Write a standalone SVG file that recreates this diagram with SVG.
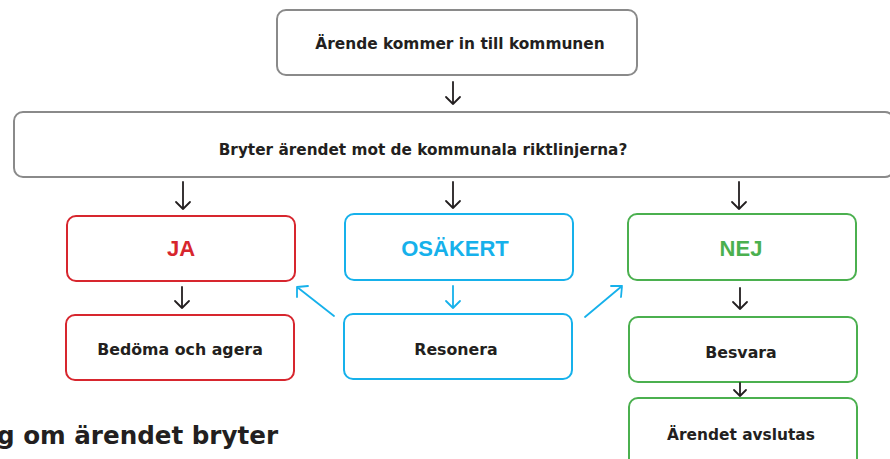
<svg xmlns="http://www.w3.org/2000/svg" width="890" height="459" viewBox="0 0 890 459">
<style>
.box{fill:#fff;stroke-width:2}
.g{stroke:#8a8a8a}.r{stroke:#d7262e}.b{stroke:#16b1eb}.n{stroke:#4bb04f}
.t{font-family:"DejaVu Sans","Liberation Sans",sans-serif;font-weight:bold;fill:#231f20;text-anchor:middle}
.h{font-family:"Liberation Sans",Arial,sans-serif;font-weight:bold;text-anchor:middle;font-size:22px}
.c{fill:none;stroke-width:1.8;stroke-linecap:round;stroke-linejoin:round}
.k{stroke:#231f20}
</style>
<rect width="890" height="459" fill="#fff"/>
<g id="n_start"><rect class="box g" x="277" y="10" width="360" height="65" rx="9"/><text class="t" x="460" y="49" font-size="15.4">Ärende kommer in till kommunen</text></g>
<g id="n_question"><rect class="box g" x="14" y="112" width="880" height="65" rx="9"/><text class="t" x="423" y="155" font-size="15.3">Bryter ärendet mot de kommunala riktlinjerna?</text></g>
<g id="n_ja"><rect class="box r" x="67" y="216" width="228" height="65" rx="9"/><text class="h" x="181" y="256" style="fill:#d7262e">JA</text></g>
<g id="n_osakert"><rect class="box b" x="345" y="214" width="228" height="66" rx="9"/><text class="h" x="455" y="256" style="fill:#16b1eb">OSÄKERT</text></g>
<g id="n_nej"><rect class="box n" x="628" y="214" width="228" height="66" rx="9"/><text class="h" x="741" y="256" style="fill:#4bb04f">NEJ</text></g>
<g id="n_bedoma"><rect class="box r" x="66" y="315" width="228" height="65" rx="9"/><text class="t" x="180" y="355" font-size="15.8">Bedöma och agera</text></g>
<g id="n_resonera"><rect class="box b" x="344" y="314" width="228" height="65" rx="9"/><text class="t" x="456" y="355" font-size="15.8">Resonera</text></g>
<g id="n_besvara"><rect class="box n" x="629" y="317" width="228" height="65" rx="9"/><text class="t" x="741" y="358" font-size="15.8">Besvara</text></g>
<g id="n_avslutas"><rect class="box n" x="629" y="398" width="228" height="75" rx="9"/><text class="t" x="741" y="440" font-size="15.4">Ärendet avslutas</text></g>
<text class="t" x="-3" y="444" font-size="24.6" style="text-anchor:start">g om ärendet bryter</text>
<g id="connectors">
<path class="c k" d="M453 82V104M446 97L453 104L460 97"/>
<path class="c k" d="M183 182V209M176 202L183 209L190 202"/>
<path class="c k" d="M453 182V208M446 201L453 208L460 201"/>
<path class="c k" d="M739 182V209M732 202L739 209L746 202"/>
<path class="c k" d="M182 287V308M175 301L182 308L189 301"/>
<path class="c b" d="M453 286V308M446 301L453 308L460 301"/>
<path class="c k" d="M740 288V309M733 302L740 309L747 302"/>
<path class="c k" d="M740 383V396M734 390L740 396L746 390"/>
<path class="c b" d="M334 316L297 287M297 297L297 287L308 286"/>
<path class="c b" d="M585 317L622 286M611 286L622 286L621 297"/>
</g>
</svg>
